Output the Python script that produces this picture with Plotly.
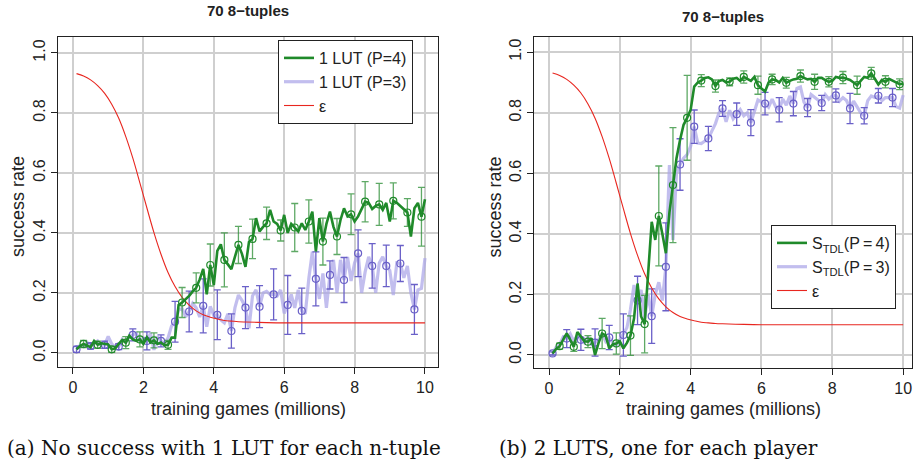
import plotly.graph_objects as go

W, H = 918, 471

# ---------------- data ----------------
x_games = [round(0.1 * i, 1) for i in range(1, 101)]

left_p4 = [0.012, 0.023, 0.030, 0.025, 0.019, 0.040, 0.027, 0.032, 0.030, 0.028,
           0.012, 0.015, 0.030, 0.043, 0.034, 0.057, 0.045, 0.040, 0.045, 0.030,
           0.052, 0.035, 0.042, 0.030, 0.035, 0.025, 0.027, 0.051, 0.051, 0.160,
           0.168, 0.178, 0.190, 0.205, 0.217, 0.245, 0.280, 0.195, 0.293, 0.226,
           0.340, 0.362, 0.310, 0.295, 0.279, 0.320, 0.360, 0.330, 0.287, 0.370,
           0.380, 0.449, 0.405, 0.420, 0.432, 0.477, 0.438, 0.430, 0.408, 0.460,
           0.400, 0.430, 0.418, 0.405, 0.432, 0.410, 0.438, 0.471, 0.338, 0.449,
           0.371, 0.430, 0.471, 0.420, 0.388, 0.443, 0.482, 0.455, 0.462, 0.438,
           0.455, 0.480, 0.504, 0.500, 0.480, 0.490, 0.495, 0.477, 0.500, 0.438,
           0.507, 0.500, 0.490, 0.480, 0.468, 0.388, 0.482, 0.500, 0.454, 0.512]

left_p3 = [0.012, 0.025, 0.020, 0.035, 0.023, 0.030, 0.040, 0.025, 0.027, 0.055,
           0.030, 0.020, 0.021, 0.045, 0.035, 0.055, 0.060, 0.065, 0.040, 0.050,
           0.040, 0.065, 0.010, 0.055, 0.040, 0.030, 0.050, 0.090, 0.104, 0.143,
           0.148, 0.120, 0.138, 0.165, 0.150, 0.120, 0.157, 0.087, 0.155, 0.125,
           0.127, 0.110, 0.100, 0.130, 0.073, 0.150, 0.193, 0.175, 0.151, 0.082,
           0.190, 0.210, 0.154, 0.200, 0.205, 0.195, 0.195, 0.190, 0.210, 0.132,
           0.160, 0.195, 0.150, 0.210, 0.140, 0.130, 0.248, 0.337, 0.247, 0.180,
           0.265, 0.150, 0.260, 0.310, 0.200, 0.310, 0.243, 0.320, 0.240, 0.300,
           0.332, 0.200, 0.270, 0.320, 0.290, 0.200, 0.300, 0.320, 0.290, 0.275,
           0.193, 0.300, 0.298, 0.250, 0.290, 0.200, 0.145, 0.210, 0.215, 0.316]

right_p4 = [0.005, 0.020, 0.029, 0.050, 0.071, 0.050, 0.027, 0.076, 0.060, 0.045,
            0.044, 0.055, 0.000, 0.040, 0.071, 0.065, 0.022, 0.035, 0.038, 0.045,
            0.022, 0.040, 0.064, 0.120, 0.236, 0.127, 0.102, 0.270, 0.440, 0.380,
            0.459, 0.400, 0.336, 0.470, 0.561, 0.650, 0.710, 0.760, 0.783, 0.810,
            0.886, 0.900, 0.906, 0.915, 0.917, 0.910, 0.888, 0.905, 0.908, 0.900,
            0.902, 0.912, 0.915, 0.905, 0.918, 0.912, 0.905, 0.918, 0.891, 0.880,
            0.870, 0.900, 0.910, 0.908, 0.900, 0.915, 0.899, 0.905, 0.910, 0.912,
            0.921, 0.915, 0.910, 0.912, 0.902, 0.915, 0.915, 0.908, 0.902, 0.905,
            0.918, 0.915, 0.916, 0.912, 0.908, 0.900, 0.891, 0.905, 0.918, 0.915,
            0.930, 0.912, 0.893, 0.908, 0.902, 0.912, 0.905, 0.900, 0.894, 0.896]

right_p3 = [0.005, 0.025, 0.035, 0.060, 0.054, 0.070, 0.045, 0.065, 0.050, 0.040,
            0.060, 0.035, 0.041, 0.050, 0.070, 0.045, 0.058, 0.040, 0.030, 0.050,
            0.066, 0.090, 0.150, 0.231, 0.180, 0.215, 0.120, 0.200, 0.128, 0.200,
            0.240, 0.180, 0.291, 0.627, 0.380, 0.600, 0.629, 0.650, 0.662, 0.690,
            0.754, 0.700, 0.698, 0.705, 0.715, 0.740, 0.764, 0.800, 0.814, 0.770,
            0.808, 0.780, 0.795, 0.810, 0.790, 0.800, 0.767, 0.808, 0.842, 0.835,
            0.830, 0.818, 0.845, 0.820, 0.810, 0.845, 0.825, 0.855, 0.830, 0.880,
            0.885, 0.835, 0.817, 0.860, 0.850, 0.840, 0.832, 0.860, 0.845, 0.855,
            0.857, 0.838, 0.850, 0.840, 0.814, 0.838, 0.820, 0.800, 0.790, 0.840,
            0.855, 0.850, 0.856, 0.840, 0.850, 0.850, 0.850, 0.820, 0.815, 0.858]

eps_x = [0.1, 0.3, 0.5, 0.7, 0.9, 1.1, 1.3, 1.5, 1.7, 1.9, 2.1, 2.3, 2.5, 2.7, 2.9,
         3.1, 3.3, 3.5, 3.7, 3.9, 4.1, 4.3, 4.5, 4.7, 4.9, 5.5, 6.0, 7.0, 8.0, 9.0, 10.0]
eps_y = [0.931, 0.923, 0.910, 0.891, 0.865, 0.829, 0.782, 0.721, 0.649, 0.567, 0.483,
         0.401, 0.329, 0.268, 0.221, 0.185, 0.159, 0.140, 0.127, 0.119, 0.113, 0.108,
         0.106, 0.104, 0.103, 0.101, 0.100, 0.100, 0.100, 0.100, 0.100]

p4_marker_x = [0.3, 0.7, 1.1, 1.5, 1.9, 2.3, 2.7, 3.1, 3.5, 3.9, 4.3, 4.7, 5.1,
               5.5, 5.9, 6.3, 6.7, 7.1, 7.5, 7.9, 8.3, 8.7, 9.1, 9.5, 9.9]
p3_marker_x = [0.1, 0.5, 0.9, 1.3, 1.7, 2.1, 2.5, 2.9, 3.3, 3.7, 4.1, 4.5, 4.9,
               5.3, 5.7, 6.1, 6.5, 6.9, 7.3, 7.7, 8.1, 8.5, 8.9, 9.3, 9.7]

left_p4_err = [0.012, 0.012, 0.010, 0.020, 0.025, 0.025, 0.015, 0.050, 0.050, 0.070,
               0.090, 0.062, 0.066, 0.054, 0.035, 0.080, 0.072, 0.078, 0.060, 0.068,
               0.067, 0.070, 0.060, 0.046, 0.098]
left_p3_err = [0.010, 0.010, 0.012, 0.010, 0.020, 0.030, 0.020, 0.068, 0.068, 0.090,
               0.083, 0.057, 0.070, 0.070, 0.085, 0.098, 0.076, 0.090, 0.047, 0.075,
               0.078, 0.074, 0.069, 0.060, 0.083]
right_p4_err = [0.010, 0.015, 0.020, 0.050, 0.035, 0.065, 0.095, 0.165, 0.190, 0.140,
                0.020, 0.020, 0.013, 0.020, 0.030, 0.017, 0.018, 0.020, 0.025, 0.017,
                0.020, 0.030, 0.020, 0.020, 0.018]
right_p3_err = [0.005, 0.030, 0.035, 0.045, 0.040, 0.070, 0.080, 0.090, 0.145, 0.085,
                0.055, 0.040, 0.026, 0.037, 0.043, 0.037, 0.040, 0.040, 0.030, 0.025,
                0.022, 0.050, 0.027, 0.024, 0.030]

y_ticks = [0.0, 0.2, 0.4, 0.6, 0.8, 1.0]
y_tick_labels = ["0.0", "0.2", "0.4", "0.6", "0.8", "1.0"]
x_ticks = [0, 2, 4, 6, 8, 10]

panel_title = "70 8\u2212tuples"
x_title = "training games (millions)"
y_title = "success rate"
captions = ["(a) No success with 1 LUT for each n-tuple",
            "(b) 2 LUTS, one for each player"]
left_names = ["1 LUT (P=4)", "1 LUT (P=3)", "\u03b5"]
right_names = ["S<sub>TDL</sub>(P\u2009=\u20094)", "S<sub>TDL</sub>(P\u2009=\u20093)", "\u03b5"]

# ---------------- styling ----------------
GREEN = "#1f8a2a"
GREEN_ERR = "rgba(40,140,50,0.75)"
LAV = "rgba(170,165,232,0.72)"
PURP = "#6a60c8"
RED = "#e8261f"
FONT = "Liberation Sans"
TXT = "#222222"


def at(series, xs):
    return [series[round(x * 10) - 1] for x in xs]


fig = go.Figure()


def add_panel(xa, ya, legend, p4, p3, p4err, p3err, names):
    fig.add_trace(go.Scatter(x=x_games, y=p3, mode="lines", xaxis=xa, yaxis=ya,
                             line=dict(color=LAV, width=3.2), name=names[1],
                             legend=legend, legendrank=2))
    fig.add_trace(go.Scatter(x=p3_marker_x, y=at(p3, p3_marker_x), mode="markers",
                             xaxis=xa, yaxis=ya, showlegend=False,
                             marker=dict(symbol="circle-open", size=7, color=PURP,
                                         line=dict(width=1.2)),
                             error_y=dict(type="data", array=p3err, color=PURP,
                                          thickness=1.3, width=3.5)))
    fig.add_trace(go.Scatter(x=eps_x, y=eps_y, mode="lines", xaxis=xa, yaxis=ya,
                             line=dict(color=RED, width=1.1, shape="spline"),
                             name=names[2], legend=legend, legendrank=3))
    fig.add_trace(go.Scatter(x=x_games, y=p4, mode="lines", xaxis=xa, yaxis=ya,
                             line=dict(color=GREEN, width=2.6), name=names[0],
                             legend=legend, legendrank=1))
    fig.add_trace(go.Scatter(x=p4_marker_x, y=at(p4, p4_marker_x), mode="markers",
                             xaxis=xa, yaxis=ya, showlegend=False,
                             marker=dict(symbol="circle-open", size=7, color=GREEN,
                                         line=dict(width=1.2)),
                             error_y=dict(type="data", array=p4err, color=GREEN_ERR,
                                          thickness=1.3, width=3.5)))


add_panel("x", "y", "legend", left_p4, left_p3, left_p4_err, left_p3_err, left_names)
add_panel("x2", "y2", "legend2", right_p4, right_p3, right_p4_err, right_p3_err, right_names)


def fx(px):
    return px / W


def fy(py):
    return 1 - py / H


# panel geometry in pixels
L = dict(x0=58, x1=438, y0=37, y1=367, xr=[-0.426, 10.37], yr=[-0.047, 1.053])
R = dict(x0=534, x1=912, y0=37, y1=368, xr=[-0.424, 10.25], yr=[-0.043, 1.05])

axis_common = dict(showline=True, mirror=True, linecolor=TXT, linewidth=1,
                   ticks="outside", ticklen=6, tickcolor=TXT, automargin=False,
                   showgrid=True, gridcolor="#cfcfcf", gridwidth=1.5, zeroline=False,
                   tickfont=dict(family=FONT, size=16, color=TXT))

for suffix, P in (("", L), ("2", R)):
    fig.update_layout(**{
        "xaxis" + suffix: dict(axis_common, domain=[fx(P["x0"]), fx(P["x1"])],
                               range=P["xr"], tickvals=x_ticks,
                               anchor="y" + suffix),
        "yaxis" + suffix: dict(axis_common, domain=[fy(P["y1"]), fy(P["y0"])],
                               range=P["yr"], tickvals=y_ticks,
                               ticktext=y_tick_labels, tickangle=-90,
                               anchor="x" + suffix),
    })

annotations = []
for P, cap, capx, ty in ((L, captions[0], 5, 11), (R, captions[1], 497, 17)):
    cx = (P["x0"] + P["x1"]) / 2
    annotations.append(dict(text="<b>" + panel_title + "</b>", x=fx(cx), y=fy(ty),
                            xref="paper", yref="paper", showarrow=False,
                            font=dict(family=FONT, size=15, color=TXT),
                            xanchor="center", yanchor="middle"))
    annotations.append(dict(text=x_title, x=fx(cx), y=fy(409), xref="paper", yref="paper",
                            showarrow=False, font=dict(family=FONT, size=18, color=TXT),
                            xanchor="center", yanchor="middle"))
    annotations.append(dict(text=y_title, x=fx(P["x0"] - 40), y=fy((P["y0"] + P["y1"]) / 2 + 5),
                            xref="paper", yref="paper", showarrow=False, textangle=-90,
                            font=dict(family=FONT, size=18, color=TXT),
                            xanchor="center", yanchor="middle"))
    annotations.append(dict(text=cap, x=fx(capx), y=fy(448), xref="paper", yref="paper",
                            showarrow=False, font=dict(family="DejaVu Serif", size=20, color="#111111"),
                            xanchor="left", yanchor="middle"))

legend_common = dict(bordercolor=TXT, borderwidth=1, bgcolor="white",
                     font=dict(family=FONT, size=16, color=TXT),
                     xanchor="left", yanchor="top", tracegroupgap=0, itemwidth=30)

fig.update_layout(
    width=W, height=H, margin=dict(l=0, r=0, t=0, b=0),
    paper_bgcolor="white", plot_bgcolor="white",
    annotations=annotations,
    legend=dict(legend_common, x=fx(278), y=fy(40)),
    legend2=dict(legend_common, x=fx(771), y=fy(225)),
)

fig.write_html("out.html", config={"displayModeBar": False},
               post_script="document.body.style.margin='0';document.body.style.overflow='hidden';")
